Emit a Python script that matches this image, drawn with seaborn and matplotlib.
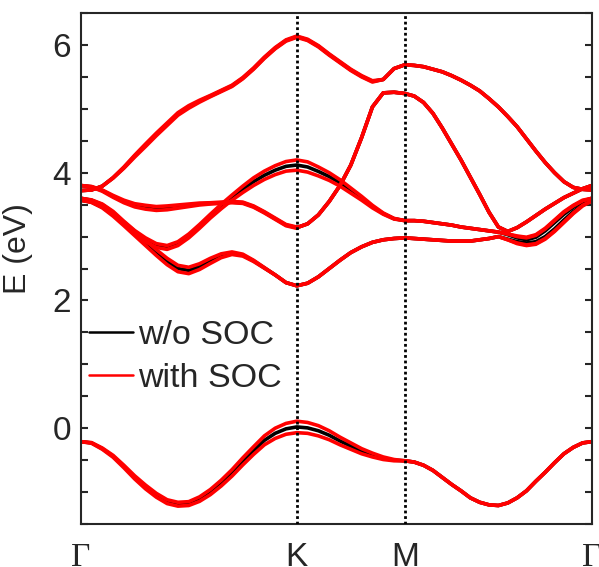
import numpy as np
import pandas as pd
import matplotlib
matplotlib.use("Agg")
import matplotlib.pyplot as plt
import seaborn as sns
from matplotlib.ticker import MultipleLocator, FuncFormatter
from matplotlib.lines import Line2D

# ---- data ----
k_labels = ["Γ", "K", "M", "Γ"]
k_points = [0.0, 1.3333, 2.0, 3.1547]
samples_per_seg = [21, 11, 21]          # Γ-K, K-M, M-Γ

# energies (eV) without SOC along Γ-K | K-M | M-Γ
v_band = [-0.21, -0.23, -0.32, -0.44, -0.60, -0.77, -0.92, -1.05, -1.15, -1.19, -1.18,
          -1.11, -1.00, -0.86, -0.70, -0.52, -0.35, -0.19, -0.08, -0.01, 0.02,
          0.02, 0.005, -0.04, -0.11, -0.20, -0.28, -0.36, -0.42, -0.47, -0.50, -0.51,
          -0.51, -0.53, -0.58, -0.66, -0.77, -0.88, -0.98, -1.09, -1.16, -1.20, -1.21,
          -1.17, -1.09, -0.98, -0.83, -0.69, -0.54, -0.40, -0.30, -0.23, -0.21]
c1_band = [3.57, 3.54, 3.46, 3.34, 3.20, 3.05, 2.90, 2.75, 2.61, 2.50, 2.47,
           2.53, 2.62, 2.70, 2.74, 2.71, 2.62, 2.51, 2.40, 2.28, 2.23,
           2.23, 2.27, 2.37, 2.50, 2.63, 2.75, 2.84, 2.91, 2.95, 2.97, 2.98,
           2.98, 2.97, 2.96, 2.95, 2.94, 2.93, 2.93, 2.93, 2.95, 2.97, 3.00,
           2.96, 2.92, 2.90, 2.92, 3.00, 3.12, 3.26, 3.39, 3.50, 3.56]
c2_band = [3.60, 3.57, 3.50, 3.38, 3.22, 3.07, 2.95, 2.86, 2.83, 2.89, 3.01,
           3.16, 3.32, 3.47, 3.61, 3.74, 3.86, 3.96, 4.04, 4.10, 4.12,
           4.12, 4.09, 4.02, 3.94, 3.84, 3.72, 3.60, 3.47, 3.36, 3.28, 3.25,
           3.25, 3.25, 3.24, 3.22, 3.20, 3.18, 3.15, 3.13, 3.11, 3.09, 3.07,
           3.03, 2.98, 2.95, 2.99, 3.09, 3.22, 3.35, 3.46, 3.55, 3.60]
c3_band = [3.80, 3.78, 3.72, 3.63, 3.55, 3.49, 3.46, 3.44, 3.45, 3.47, 3.49,
           3.51, 3.52, 3.53, 3.54, 3.53, 3.47, 3.38, 3.28, 3.18, 3.14,
           3.14, 3.20, 3.34, 3.55, 3.80, 4.12, 4.55, 5.03, 5.25, 5.26, 5.24,
           5.24, 5.20, 5.10, 4.93, 4.70, 4.45, 4.20, 3.93, 3.66, 3.38, 3.15,
           3.08, 3.14, 3.23, 3.33, 3.43, 3.52, 3.61, 3.68, 3.75, 3.80]
c4_band = [3.72, 3.73, 3.79, 3.92, 4.08, 4.26, 4.43, 4.60, 4.76, 4.92, 5.03,
           5.12, 5.20, 5.28, 5.36, 5.48, 5.63, 5.80, 5.95, 6.07, 6.13,
           6.13, 6.08, 5.98, 5.85, 5.73, 5.61, 5.51, 5.43, 5.46, 5.63, 5.69,
           5.69, 5.68, 5.66, 5.62, 5.58, 5.52, 5.45, 5.37, 5.28, 5.16, 5.03,
           4.88, 4.72, 4.53, 4.34, 4.16, 4.00, 3.86, 3.77, 3.74, 3.73]

# SOC offsets (eV) of the upper / lower SOC branch of each band, same sampling
v_split = [0, 0.005, 0.01, 0.015, 0.02, 0.025, 0.03, 0.03, 0.03, 0.03, 0.03,
           0.035, 0.04, 0.045, 0.05, 0.055, 0.06, 0.07, 0.08, 0.085, 0.09,
           0.09, 0.085, 0.08, 0.07, 0.06, 0.05, 0.04, 0.03, 0.02, 0.01, 0,
           0, 0, 0, 0, 0, 0, 0, 0, 0, 0, 0,
           0, 0, 0, 0, 0, 0, 0, 0, 0, 0]
c1_up = [0, 0.005, 0.01, 0.02, 0.03, 0.035, 0.04, 0.045, 0.05, 0.05, 0.05,
         0.045, 0.04, 0.03, 0.02, 0.015, 0.01, 0.005, 0, 0, 0,
         0, 0, 0, 0, 0, 0, 0, 0, 0, 0, 0,
         0, 0, 0, 0, 0, 0, 0, 0, 0, 0, 0,
         -0.01, -0.02, -0.03, -0.03, -0.03, -0.03, -0.03, -0.02, -0.01, 0]
c1_dn = [0, 0.005, 0.01, 0.02, 0.03, 0.035, 0.04, 0.045, 0.05, 0.05, 0.05,
         0.045, 0.04, 0.03, 0.02, 0.015, 0.01, 0.005, 0, 0, 0,
         0, 0, 0, 0, 0, 0, 0, 0, 0, 0, 0,
         0, 0, 0, 0, 0, 0, 0, 0, 0, 0, 0,
         0.01, 0.03, 0.04, 0.04, 0.04, 0.04, 0.04, 0.03, 0.02, 0]
c2_up = [0, 0.005, 0.01, 0.015, 0.02, 0.025, 0.03, 0.03, 0.03, 0.03, 0.03,
         0.03, 0.03, 0.035, 0.04, 0.05, 0.06, 0.065, 0.07, 0.075, 0.08,
         0.08, 0.08, 0.07, 0.06, 0.05, 0.04, 0.03, 0.02, 0.01, 0.005, 0,
         0, 0, 0, 0, 0, 0, 0, 0, 0, 0, 0,
         0.01, 0.03, 0.04, 0.04, 0.04, 0.04, 0.04, 0.03, 0.02, 0]
c2_dn = [0, 0.005, 0.01, 0.015, 0.02, 0.025, 0.03, 0.03, 0.03, 0.03, 0.03,
         0.03, 0.03, 0.035, 0.04, 0.05, 0.06, 0.065, 0.07, 0.075, 0.08,
         0.08, 0.08, 0.07, 0.06, 0.05, 0.04, 0.03, 0.02, 0.01, 0.005, 0,
         0, 0, 0, 0, 0, 0, 0, 0, 0, 0, 0,
         -0.01, -0.02, -0.03, -0.03, -0.03, -0.03, -0.03, -0.02, -0.01, 0]
c3_split = [0, 0.005, 0.01, 0.015, 0.02, 0.025, 0.03, 0.03, 0.03, 0.025, 0.02,
            0.015, 0.01, 0.01, 0.01, 0.01, 0.01, 0.01, 0.01, 0.01, 0.01,
            0, 0, 0, 0, 0, 0, 0, 0, 0, 0, 0,
            0, 0, 0, 0, 0, 0, 0, 0, 0, 0, 0,
            0, 0, 0, 0, 0, 0, 0, 0, 0, 0]
c4_split = [0, 0, 0, 0.005, 0.01, 0.015, 0.02, 0.02, 0.02, 0.02, 0.02,
            0.015, 0.01, 0.01, 0.01, 0.01, 0.01, 0.01, 0.01, 0.01, 0.01,
            0.01, 0.01, 0.01, 0.01, 0.01, 0.01, 0.01, 0.01, 0, 0, 0,
            0, 0, 0, 0, 0, 0, 0, 0, 0, 0, 0,
            0, 0, 0, 0, 0, 0, 0, 0, 0, 0]

series_names = ["w/o SOC", "with SOC"]
series_colors = ["#000000", "#ff0000"]

# ---- build long table ----
k_path = np.concatenate([np.linspace(k_points[i], k_points[i + 1], samples_per_seg[i])
                         for i in range(3)])
bands = [v_band, c1_band, c2_band, c3_band, c4_band]
ups = [v_split, c1_up, c2_up, c3_split, c4_split]
dns = [v_split, c1_dn, c2_dn, c3_split, c4_split]
rows = []
for b, (e, su, sd) in enumerate(zip(bands, ups, dns)):
    e = np.array(e)
    for kk, ee in zip(k_path, e):
        rows.append((kk, ee, series_names[0], f"b{b}"))
    for tag, vals in (("u", e + np.array(su)), ("d", e - np.array(sd))):
        for kk, ee in zip(k_path, vals):
            rows.append((kk, ee, series_names[1], f"b{b}{tag}"))
df = pd.DataFrame(rows, columns=["k", "E", "series", "unit"])

# ---- plot ----
sns.set_style("white")
plt.rcParams["font.family"] = ["Liberation Sans", "DejaVu Sans"]
fig = plt.figure(figsize=(5.99, 5.67), dpi=100)
ax = fig.add_axes([0.1347, 0.0758, 0.8536, 0.9012])

for name, col in zip(series_names, series_colors):
    sns.lineplot(data=df[df["series"] == name], x="k", y="E", units="unit",
                 estimator=None, sort=False, color=col, lw=2.6, ax=ax,
                 legend=False, solid_joinstyle="round", solid_capstyle="round")

for kp in k_points[1:3]:
    ax.axvline(kp, color="black", ls=(0, (1, 1)), lw=2.0, zorder=5)

ax.set_xlim(k_points[0], k_points[-1])
ax.set_ylim(-1.5, 6.5)
ax.set_xticks(k_points)
ax.set_xticklabels(k_labels)
for lab, txt in zip(ax.get_xticklabels(), k_labels):
    if txt == "Γ":
        lab.set_fontfamily(["Liberation Serif", "DejaVu Serif"])
ax.tick_params(axis="x", length=0, pad=13, labelsize=24, labelcolor="#262626")

ax.yaxis.set_major_locator(MultipleLocator(2))
ax.yaxis.set_minor_locator(MultipleLocator(0.5))
ax.yaxis.set_major_formatter(FuncFormatter(lambda v, p: f"{v:.0f}"))
ax.tick_params(axis="y", which="both", direction="in", length=5, width=1.5,
               left=True, right=True, color="#262626", labelsize=24,
               labelcolor="#262626", pad=7)
ax.set_xlabel("")
ax.set_ylabel("E (eV)", fontsize=23, color="#262626")
ax.yaxis.set_label_coords(-0.094, 0.54)
for sp in ax.spines.values():
    sp.set_linewidth(1.5)
    sp.set_color("#262626")
    sp.set_visible(True)

handles = [Line2D([], [], color=c, lw=1.8) for c in series_colors]
ax.legend(handles, series_names, loc="upper left", bbox_to_anchor=(0.017, 0.399),
          frameon=False, fontsize=24.5, handlelength=1.28, handletextpad=0.15,
          labelspacing=0.34, borderpad=0, borderaxespad=0)

fig.savefig("out.png", dpi=100)
